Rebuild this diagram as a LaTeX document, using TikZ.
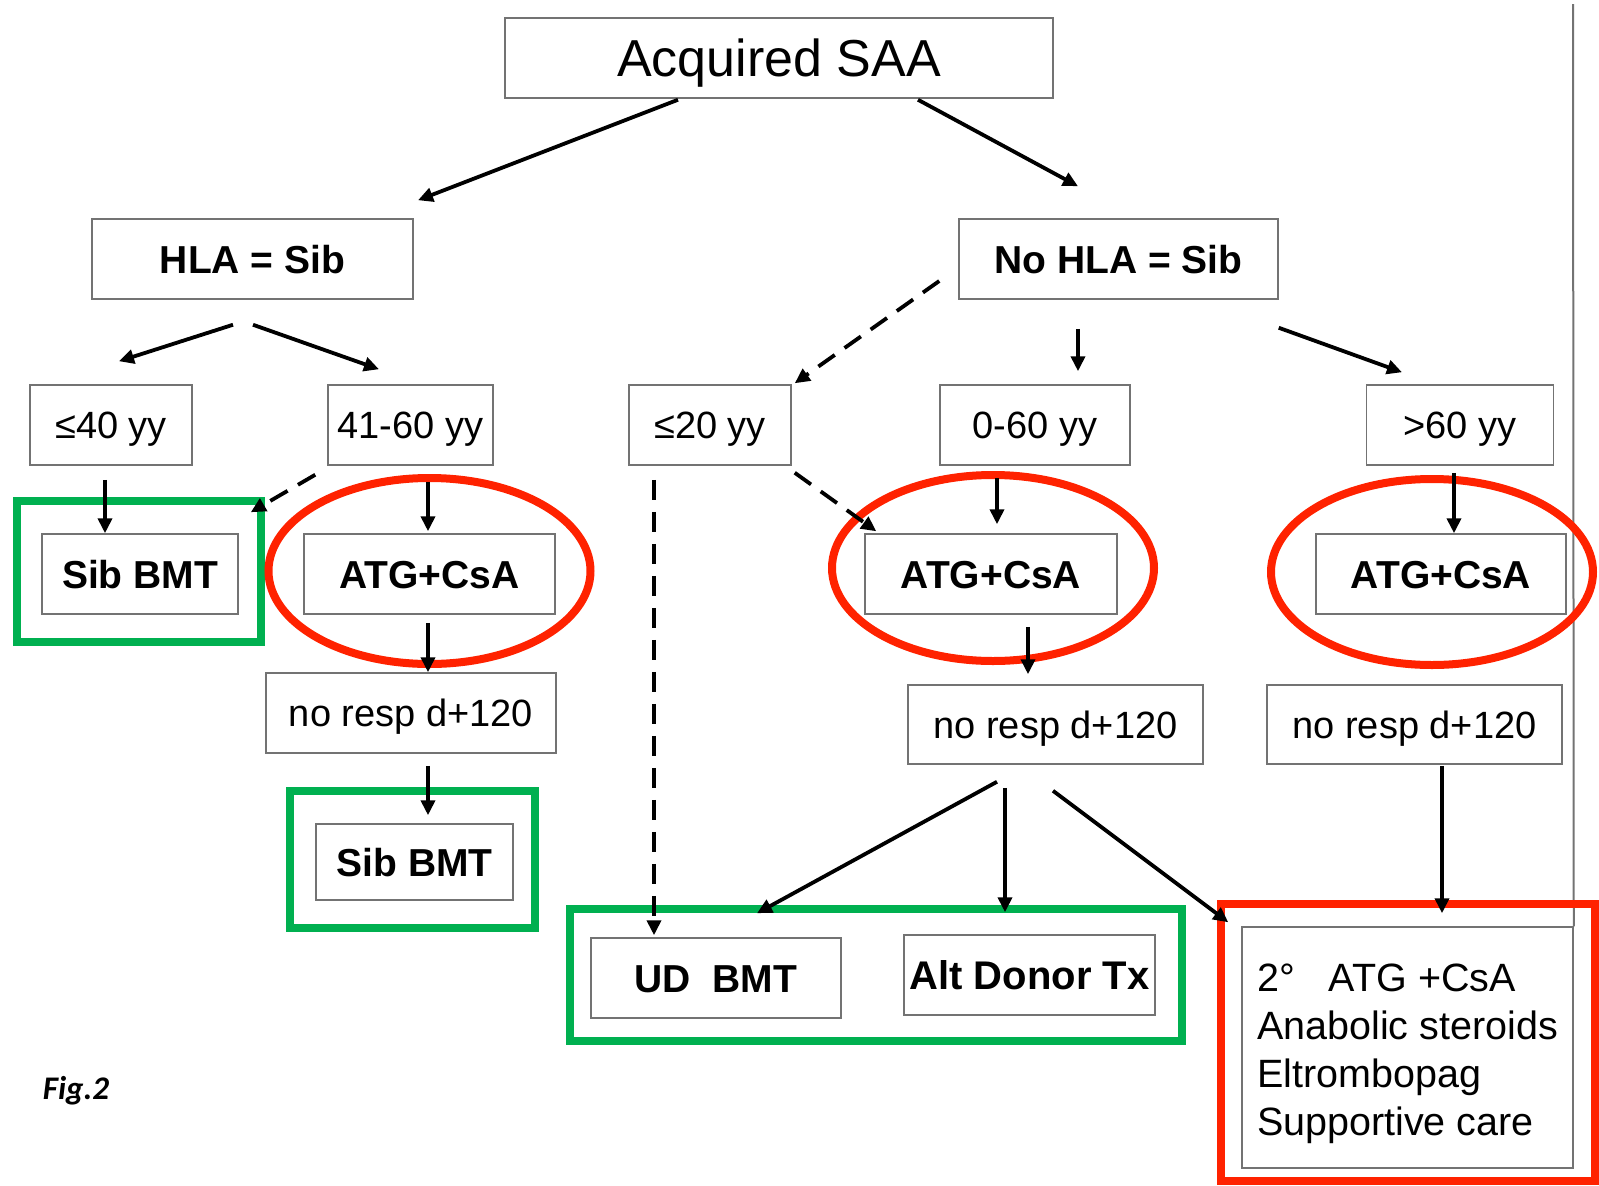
\documentclass[tikz,border=0pt]{standalone}
\usepackage{fontspec}
\setmainfont{Liberation Sans}
\newfontfamily\capfont{Carlito}
\usepackage{tikz}
\usetikzlibrary{arrows.meta,calc}

\definecolor{mkgreen}{RGB}{0,176,80}
\definecolor{mkred}{RGB}{255,34,0}
\newcommand{\pxfont}[1]{\fontsize{#1}{#1}\selectfont}

\begin{document}
\begin{tikzpicture}[x=1pt, y=-1pt,
    box/.style={draw=black!55, line width=1.5pt, inner sep=0pt, minimum height=80,
        text height=35pt, text depth=8pt, font=\pxfont{38}},
    boldbox/.style={box, text height=36pt, font=\pxfont{39}\bfseries},
    flow/.style={line width=3.8pt, -{Triangle[length=15pt, width=14pt]}},
    altflow/.style={flow, dash pattern=on 20pt off 12pt},
    greenmark/.style={draw=mkgreen, line width=8pt},
    redmark/.style={draw=mkred, line width=8pt}]
    \useasboundingbox (0,0) rectangle (1599,1186);

    % Top levels
    \node[box, minimum width=548, text height=45pt, font=\pxfont{52}] (saa) at (779,58) {Acquired SAA};
    \node[boldbox, minimum width=321] (hla) at (252.5,259) {HLA = Sib};
    \node[boldbox, minimum width=319] (nohla) at (1118.5,259) {No HLA = Sib};

    % Age groups
    \node[box, minimum width=162] (le40) at (111,425) {≤40 yy};
    \node[box, minimum width=165] (a4160) at (410.5,425) {41-60 yy};
    \node[box, minimum width=162] (le20) at (710,425) {≤20 yy};
    \node[box, minimum width=190] (a060) at (1035,425) {0-60 yy};
    \node[box, minimum width=187] (gt60) at (1460,425) {>60 yy};

    % First line treatment
    \node[boldbox, minimum width=196] (sibA) at (140,574) {Sib BMT};
    \node[boldbox, minimum width=251] (atgA) at (429.5,574) {ATG+CsA};
    \node[boldbox, minimum width=252] (atgB) at (991,574) {ATG+CsA};
    \node[boldbox, minimum width=250] (atgC) at (1441,574) {ATG+CsA};

    % No response
    \node[box, minimum width=290] (noA) at (411,713) {no resp d+120};
    \node[box, minimum width=295, minimum height=79] (noB) at (1055.5,724.5) {no resp d+120};
    \node[box, minimum width=295, minimum height=79] (noC) at (1414.5,724.5) {no resp d+120};

    % Second line
    \node[boldbox, minimum width=197, minimum height=76] (sibB) at (414.5,862) {Sib BMT};
    \node[boldbox, minimum width=250] (udbmt) at (716,978) {UD\ \ BMT};
    \node[boldbox, minimum width=251, font=\pxfont{40}\bfseries] (altd) at (1029.5,975) {Alt Donor Tx};
    \node[draw=black!55, line width=1.5pt, inner sep=0pt, minimum width=331, minimum height=241, align=left,
        font=\fontsize{39.5}{48}\selectfont] (final) at (1407.5,1047.5)
        {\rule{0pt}{40pt}2°\hspace{34pt}ATG +CsA\\Anabolic steroids\\Eltrombopag\\Supportive care};

    \node[font=\capfont\pxfont{33}\bfseries\itshape] (figlabel) at (76,1091) {Fig.2};

    % Page rule
    \coordinate (rimtop) at (1573,4);
    \draw[draw=black!55, line width=2pt] (rimtop) -- (final.north east);

    % Highlights
    \draw[greenmark] (17,501) rectangle (261,642);
    \draw[greenmark] (290,791) rectangle (535,928);
    \draw[greenmark] (570,909) rectangle (1182,1041);
    \draw[redmark] (1221,904) rectangle (1595,1181);
    \foreach \cx/\cy in {429.5/571, 993/568, 1432/572} {
        \draw[redmark] (\cx,\cy) ellipse [x radius=161pt, y radius=93pt];
    }

    % Main split
    \draw[flow] ($(saa.south)+(-101,1)$) -- ($(hla.north)+(165.5,-18)$);
    \draw[flow] ($(saa.south)+(139,1)$) -- ($(nohla.north)+(-40.5,-32)$);

    % Sibling donor
    \draw[flow] ($(hla.south)+(-19.5,25)$) -- ($(le40.north)+(8,-23)$);
    \draw[flow] ($(hla.south)+(0.5,25)$) -- ($(a4160.north)+(-31.5,-15)$);
    \draw[flow] ($(le40.south)+(-6,14)$) -- ($(sibA.north)+(-35,0)$);
    \draw[altflow] ($(a4160.south west)+(-12,9)$) -- ($(sibA.north east)+(12,-21)$);
    \draw[flow] ($(a4160.south)+(17.5,16)$) -- ($(atgA.north)+(-1.5,-2)$);
    \draw[flow] ($(atgA.south)+(-1.5,8)$) -- ($(noA.north)+(17,0)$);
    \draw[flow] ($(noA.south)+(17,12)$) -- ($(sibB.north)+(13.5,-8)$);

    % No sibling donor
    \draw[altflow] ($(nohla.west)+(-19,22)$) -- ($(le20.north east)+(3,-1)$);
    \draw[flow] ($(nohla.south)+(-40.5,29)$) -- ($(a060.north)+(43,-13)$);
    \draw[flow] ($(nohla.south east)+(0,28)$) -- ($(gt60.north)+(-58,-12)$);
    \draw[altflow] ($(le20.south)+(-56,14)$) -- ($(udbmt.north)+(-62,-2)$);
    \draw[altflow] ($(le20.south east)+(3,7)$) -- ($(atgB.north west)+(12,-2)$);
    \draw[flow] ($(a060.south)+(-38,12)$) -- ($(atgB.north)+(6,-9)$);
    \draw[flow] ($(atgB.south)+(37,12)$) -- ($(noB.north)+(-27.5,-10)$);
    \draw[flow] ($(noB.south)+(-58.5,17)$) -- ($(udbmt.north)+(41,-24)$);
    \draw[flow] ($(noB.south)+(-50.5,23)$) -- ($(altd.north)+(-24.5,-22)$);
    \draw[flow] ($(noB.south)+(-2.5,26)$) -- ($(final.north west)+(-13,-4)$);
    \draw[flow] ($(gt60.south)+(-6,7)$) -- ($(atgC.north)+(13,0)$);
    \draw[flow] ($(noC.south)+(27.5,1)$) -- ($(final.north)+(34.5,-13)$);
\end{tikzpicture}
\end{document}
